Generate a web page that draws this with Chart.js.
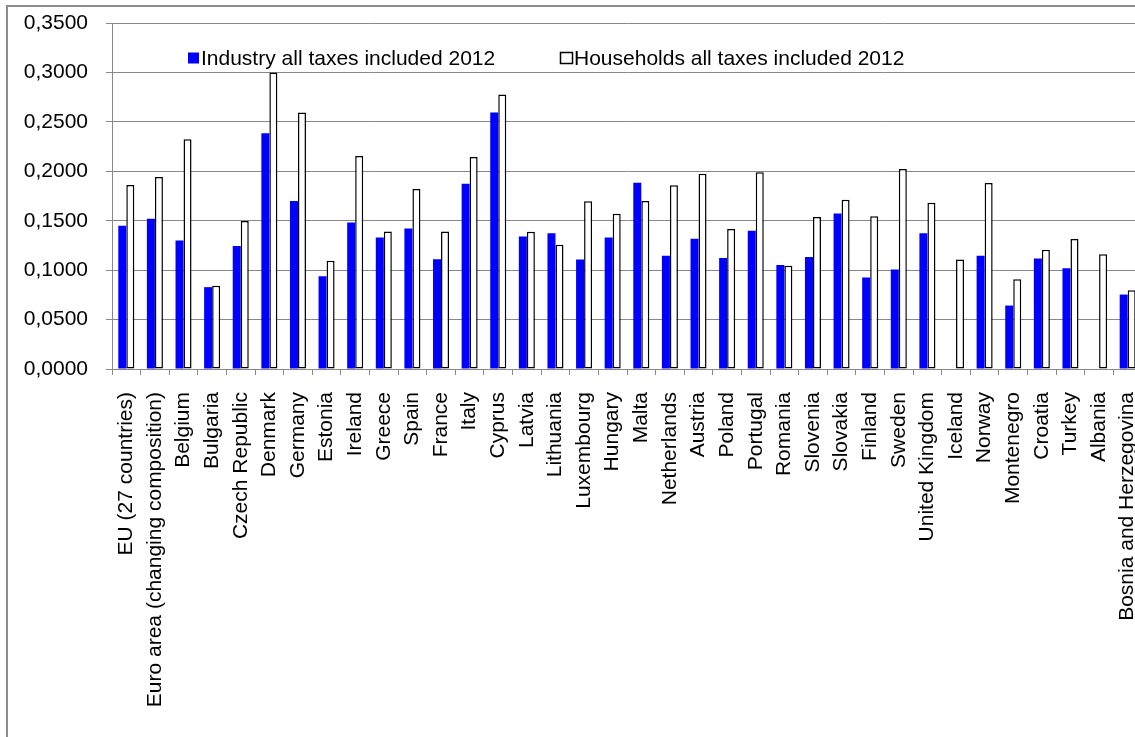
<!DOCTYPE html>
<html>
<head>
<meta charset="utf-8">
<script src="https://cdn.jsdelivr.net/npm/chart.js@4/dist/chart.umd.min.js"></script>
<style>
    html, body { margin: 0; padding: 0; overflow: hidden; background: #fff; }
    #frame { position: absolute; left: 6px; top: 5px; width: 1200px; height: 800px;
             border-top: 2px solid #8c8c8c; border-left: 2px solid #8c8c8c; }
    #chart { position: absolute; left: 0; top: 0; }
</style>
</head>
<body>
<div id="frame"></div>
<canvas id="chart" width="1142" height="737"></canvas>
<script>
// Pays / catégories
const countries = [
    "EU (27 countries)", "Euro area (changing composition)", "Belgium", "Bulgaria",
    "Czech Republic", "Denmark", "Germany", "Estonia", "Ireland", "Greece", "Spain",
    "France", "Italy", "Cyprus", "Latvia", "Lithuania", "Luxembourg", "Hungary", "Malta",
    "Netherlands", "Austria", "Poland", "Portugal", "Romania", "Slovenia", "Slovakia",
    "Finland", "Sweden", "United Kingdom", "Iceland", "Norway", "Montenegro", "Croatia",
    "Turkey", "Albania", "Bosnia and Herzegovina"
];

// Industry all taxes included 2012
const industry = [
    0.1449, 0.1520, 0.1300, 0.0828, 0.1243, 0.2385, 0.1700, 0.0939, 0.1483, 0.1331, 0.1422,
    0.1111, 0.1875, 0.2595, 0.1341, 0.1372, 0.1108, 0.1331, 0.1885, 0.1145, 0.1318, 0.1122,
    0.1399, 0.1051, 0.1132, 0.1574, 0.0926, 0.1007, 0.1372, null, 0.1145, 0.0642, 0.1118,
    0.1020, null, 0.0753
];

// Households all taxes included 2012
const households = [
    0.1861, 0.1943, 0.2324, 0.0841, 0.1497, 0.3000, 0.2595, 0.1095, 0.2155, 0.1392, 0.1821,
    0.1392, 0.2145, 0.2777, 0.1389, 0.1257, 0.1696, 0.1571, 0.1700, 0.1858, 0.1976, 0.1416,
    0.1990, 0.1044, 0.1537, 0.1713, 0.1544, 0.2024, 0.1682, 0.1108, 0.1882, 0.0909, 0.1206,
    0.1314, 0.1162, 0.0797
];

const seriesNames = ["Industry all taxes included 2012", "Households all taxes included 2012"];
const yTicks = [0, 0.05, 0.10, 0.15, 0.20, 0.25, 0.30, 0.35];

Chart.defaults.font.family = "'Liberation Sans', Arial, sans-serif";
Chart.defaults.font.size = 21;
Chart.defaults.color = "#000";

// Légende dessinée à la manière d'Excel
const excelLegend = {
    id: "excelLegend",
    afterDraw(chart) {
        const ctx = chart.ctx;
        const items = [
            { box: [188, 52.5, 11, 11], textX: 201 },
            { box: [560.5, 52.5, 12, 11], textX: 574 }
        ];
        ctx.save();
        ctx.font = "21px 'Liberation Sans', Arial, sans-serif";
        ctx.textBaseline = "alphabetic";
        chart.data.datasets.forEach((ds, i) => {
            const [x, y, w, h] = items[i].box;
            ctx.fillStyle = ds.backgroundColor;
            ctx.fillRect(x, y, w, h);
            if (ds.borderWidth) {
                ctx.strokeStyle = ds.borderColor;
                ctx.lineWidth = 1.5;
                ctx.strokeRect(x, y, w, h);
            }
            ctx.fillStyle = "#000";
            ctx.fillText(ds.label, items[i].textX, 65);
        });
        ctx.restore();
    }
};

new Chart(document.getElementById("chart"), {
    type: "bar",
    data: {
        labels: countries,
        datasets: [
            {
                label: seriesNames[0],
                data: industry,
                backgroundColor: "#0000ff",
                borderWidth: 0
            },
            {
                label: seriesNames[1],
                data: households,
                backgroundColor: "#ffffff",
                borderColor: "#000000",
                borderWidth: 1.5,
                borderSkipped: false
            }
        ]
    },
    options: {
        responsive: false,
        animation: false,
        layout: { padding: { left: 0, top: 23, right: 0, bottom: 0 } },
        datasets: {
            bar: { categoryPercentage: 0.56, barPercentage: 1.0 }
        },
        plugins: {
            legend: { display: false },
            tooltip: { enabled: false }
        },
        scales: {
            x: {
                grid: {
                    offset: true,
                    drawOnChartArea: false,
                    drawTicks: true,
                    tickLength: 6,
                    color: "#888"
                },
                border: { display: true, color: "#888" },
                ticks: {
                    autoSkip: false,
                    maxRotation: 90,
                    minRotation: 90,
                    padding: 17
                },
                afterFit(axis) {
                    axis.height = 368;
                    axis.paddingLeft = 0;
                    axis.paddingRight = 0;
                }
            },
            y: {
                min: 0,
                max: 0.35,
                afterBuildTicks(axis) { axis.ticks = yTicks.map(v => ({ value: v })); },
                ticks: {
                    padding: 18,
                    callback: v => v.toFixed(4).replace(".", ",")
                },
                grid: { color: "#888", tickLength: 6, drawTicks: true },
                border: { display: true, color: "#888" },
                afterFit(axis) {
                    axis.width = 112;
                    axis.paddingTop = 0;
                    axis.paddingBottom = 0;
                }
            }
        }
    },
    plugins: [excelLegend]
});
</script>
</body>
</html>
